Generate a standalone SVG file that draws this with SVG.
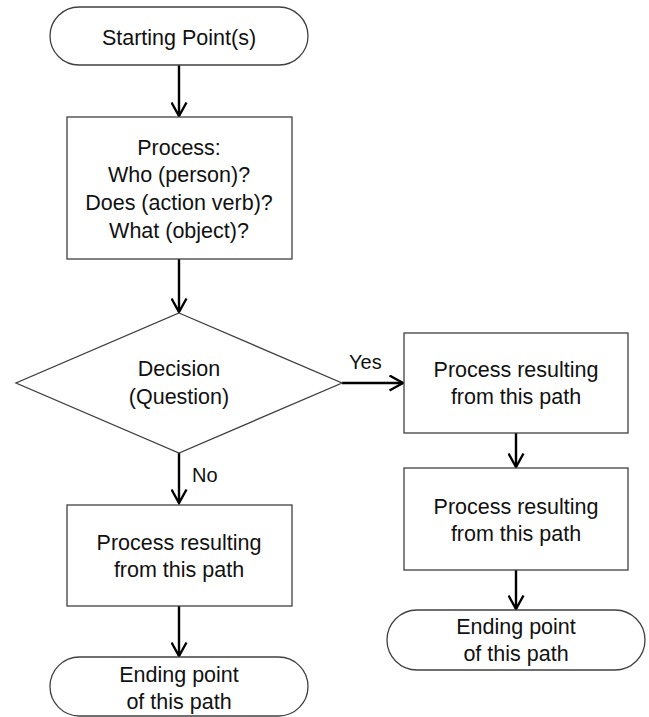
<svg xmlns="http://www.w3.org/2000/svg" width="649" height="717" viewBox="0 0 649 717">
<defs>
<marker id="arr" markerWidth="17" markerHeight="17" viewBox="0 0 17 17" refX="15" refY="8.5" orient="auto" markerUnits="userSpaceOnUse">
<path d="M1.5,1 L15,8.5 L1.5,16" fill="none" stroke="#000" stroke-width="2.4"/>
</marker>
</defs>
<style>
.s{fill:#fff;stroke:#404040;stroke-width:1.3}
.t{font-family:"Liberation Sans",Arial,sans-serif;font-size:21.5px;fill:#111;text-anchor:middle}
.l{font-family:"Liberation Sans",Arial,sans-serif;font-size:20px;fill:#111}
.c{fill:none;stroke:#000;stroke-width:2.4;marker-end:url(#arr)}
</style>
<rect width="649" height="717" fill="#fff"/>
<g id="connectors">
<line class="c" x1="179" y1="65" x2="179" y2="116"/>
<line class="c" x1="179" y1="259" x2="179" y2="312"/>
<line class="c" x1="179" y1="453" x2="179" y2="503"/>
<line class="c" x1="179" y1="606" x2="179" y2="656"/>
<line class="c" x1="342" y1="383" x2="403" y2="383"/>
<line class="c" x1="516" y1="433" x2="516" y2="467"/>
<line class="c" x1="516" y1="570" x2="516" y2="609"/>
<text class="l" x="349" y="369">Yes</text>
<text class="l" x="192" y="482">No</text>
</g>
<g id="start">
<rect class="s" x="50" y="7" width="258" height="58" rx="29" ry="29"/>
<text class="t" x="179" y="45">Starting Point(s)</text>
</g>
<g id="process">
<rect class="s" x="67" y="117" width="225" height="142"/>
<text class="t" x="179" y="155">Process:</text>
<text class="t" x="179" y="182">Who (person)?</text>
<text class="t" x="179" y="210">Does (action verb)?</text>
<text class="t" x="179" y="238">What (object)?</text>
</g>
<g id="decision">
<polygon class="s" points="179,313 342,383 179,453 16,383"/>
<text class="t" x="179" y="376">Decision</text>
<text class="t" x="179" y="404">(Question)</text>
</g>
<g id="no-process">
<rect class="s" x="67" y="505" width="225" height="101"/>
<text class="t" x="179" y="550">Process resulting</text>
<text class="t" x="179" y="577">from this path</text>
</g>
<g id="no-end">
<rect class="s" x="50" y="657" width="258" height="59" rx="29.5" ry="29.5"/>
<text class="t" x="179" y="682">Ending point</text>
<text class="t" x="179" y="709">of this path</text>
</g>
<g id="yes-process-1">
<rect class="s" x="404" y="333" width="224" height="100"/>
<text class="t" x="516" y="377">Process resulting</text>
<text class="t" x="516" y="404">from this path</text>
</g>
<g id="yes-process-2">
<rect class="s" x="404" y="468" width="224" height="102"/>
<text class="t" x="516" y="514">Process resulting</text>
<text class="t" x="516" y="541">from this path</text>
</g>
<g id="yes-end">
<rect class="s" x="387" y="610" width="258" height="60" rx="30" ry="30"/>
<text class="t" x="516" y="634">Ending point</text>
<text class="t" x="516" y="661">of this path</text>
</g>
</svg>
